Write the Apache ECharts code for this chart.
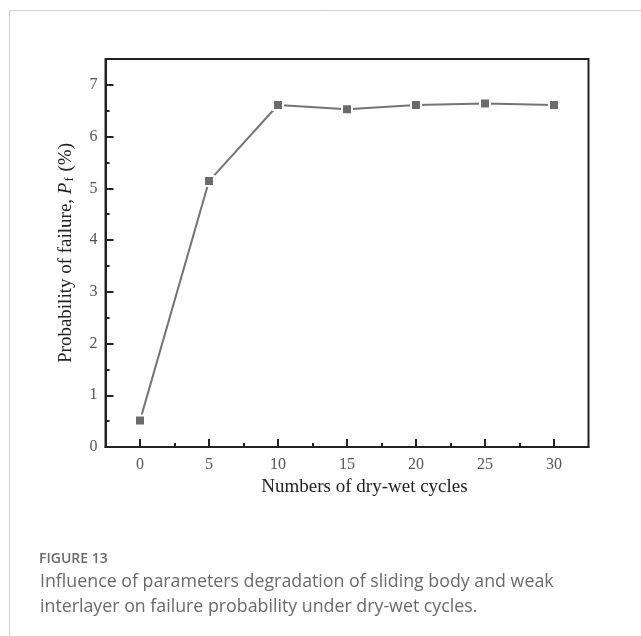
<!DOCTYPE html>
<html>
<head>
<meta charset="utf-8">
<script src="https://cdn.jsdelivr.net/npm/echarts@6/dist/echarts.min.js"></script>
<style>
html,body{margin:0;padding:0;background:#fff;}
#chart{width:641px;height:636px;}
</style>
</head>
<body>
<div id="chart"></div>
<script>
const cycles = [0, 5, 10, 15, 20, 25, 30];
const failureProb = [0.51, 5.14, 6.61, 6.53, 6.61, 6.64, 6.61];
const xMajorTicks = [0, 5, 10, 15, 20, 25, 30];
const xMinorTicks = [2.5, 7.5, 12.5, 17.5, 22.5, 27.5];
const yMajorTicks = [0, 1, 2, 3, 4, 5, 6, 7];
const yMinorTicks = [0.5, 1.5, 2.5, 3.5, 4.5, 5.5, 6.5];
const xTitle = 'Numbers of dry-wet cycles';
const figureLabel = 'FIGURE 13';
const captionLines = [
  'Influence of parameters degradation of sliding body and weak',
  'interlayer on failure probability under dry-wet cycles.'
];

const serif = '"Liberation Serif", "Times New Roman", serif';
const chart = echarts.init(document.getElementById('chart'), null, {renderer: 'canvas'});

const axisLineStyle = {color: '#222', width: 2};

chart.setOption({
  animation: false,
  backgroundColor: '#fff',
  grid: {
    left: 105.5, top: 59, right: 52.5, bottom: 189,
    show: true, borderColor: '#222', borderWidth: 2, backgroundColor: 'transparent'
  },
  xAxis: [{
    type: 'value', min: -2.5, max: 32.5,
    axisLine: {show: true, onZero: false, lineStyle: axisLineStyle},
    axisTick: {show: true, inside: true, length: 8, lineStyle: {color: '#222', width: 2}, customValues: xMajorTicks},
    axisLabel: {show: true, customValues: xMajorTicks, margin: 10, fontFamily: serif, fontSize: 16, color: '#555'},
    splitLine: {show: false},
    name: xTitle, nameLocation: 'middle', nameGap: 30,
    nameTextStyle: {fontFamily: serif, fontSize: 19, color: '#222', padding: [0, 0, 0, 35]}
  }, {
    type: 'value', min: -2.5, max: 32.5, position: 'bottom',
    axisLine: {show: false, onZero: false},
    axisTick: {show: true, inside: true, length: 4, lineStyle: {color: '#222', width: 2}, customValues: xMinorTicks},
    axisLabel: {show: false},
    splitLine: {show: false}
  }],
  yAxis: [{
    type: 'value', min: 0, max: 7.5,
    axisLine: {show: true, onZero: false, lineStyle: axisLineStyle},
    axisTick: {show: true, inside: true, length: 8, lineStyle: {color: '#222', width: 2}, customValues: yMajorTicks},
    axisLabel: {show: true, customValues: yMajorTicks, margin: 8, fontFamily: serif, fontSize: 16, color: '#555'},
    splitLine: {show: false},
    name: '{n|Probability of failure, }{i|P}{s|f}{n| (%)}',
    nameLocation: 'middle', nameRotate: 90, nameGap: 29,
    nameTextStyle: {
      fontFamily: serif, fontSize: 19, color: '#222',
      rich: {
        n: {fontFamily: serif, fontSize: 19, color: '#222'},
        i: {fontFamily: serif, fontSize: 19, color: '#222', fontStyle: 'italic'},
        s: {fontFamily: serif, fontSize: 13, color: '#222', verticalAlign: 'bottom', padding: [8, 1, 0, 1]}
      }
    }
  }, {
    type: 'value', min: 0, max: 7.5, position: 'left',
    axisLine: {show: false, onZero: false},
    axisTick: {show: true, inside: true, length: 4, lineStyle: {color: '#222', width: 2}, customValues: yMinorTicks},
    axisLabel: {show: false},
    splitLine: {show: false}
  }],
  series: [{
    type: 'line',
    xAxisIndex: 0, yAxisIndex: 0,
    data: cycles.map((c, i) => [c, failureProb[i]]),
    symbol: 'rect', symbolSize: 10,
    itemStyle: {color: '#6b6b6b', borderColor: '#fff', borderWidth: 2},
    lineStyle: {color: '#747474', width: 2},
    emphasis: {disabled: true}
  }],
  graphic: [
    {type: 'rect', shape: {x: 9.5, y: 10.5, width: 700, height: 700}, style: {fill: 'none', stroke: '#d0d0d0', lineWidth: 1}, silent: true},
    {type: 'text', x: 39, y: 559, style: {text: figureLabel, font: '600 14px "Open Sans", Lato, sans-serif', fill: '#6a6a6a', verticalAlign: 'middle'}},
    {type: 'text', x: 40, y: 581.5, style: {text: captionLines[0], font: '17.8px "Open Sans", Lato, sans-serif', fill: '#6a6a6a', verticalAlign: 'middle'}},
    {type: 'text', x: 40, y: 606.5, style: {text: captionLines[1], font: '17.8px "Open Sans", Lato, sans-serif', fill: '#6a6a6a', verticalAlign: 'middle'}}
  ]
});
</script>
</body>
</html>
